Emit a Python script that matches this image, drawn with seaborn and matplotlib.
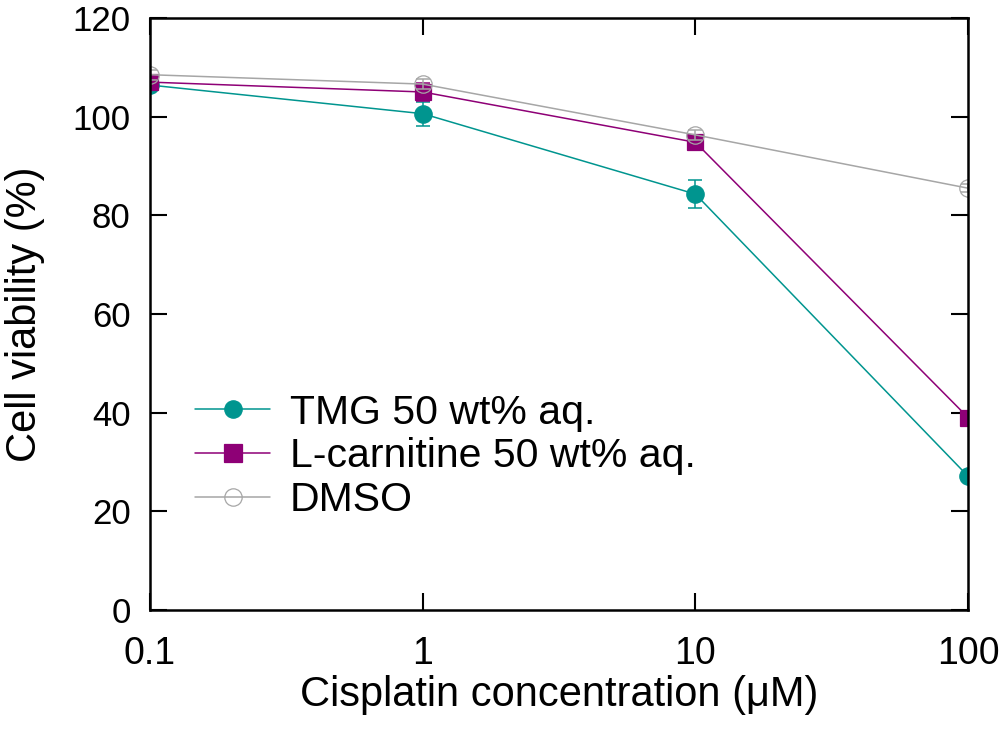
import numpy as np
import pandas as pd
import matplotlib
matplotlib.use("Agg")
import matplotlib.pyplot as plt
import seaborn as sns

# cisplatin concentration (uM)
conc = [0.1, 1, 10, 100]

tmg = [106.4, 100.6, 84.3, 27.1]
tmg_err = [1.2, 2.4, 2.9, 0.6]

lcar = [107.0, 105.0, 94.8, 39.0]
lcar_err = [1.5, 1.9, 1.0, 0.6]

dmso = [108.5, 106.6, 96.3, 85.5]
dmso_err = [1.0, 1.0, 1.0, 0.8]

labels = ["TMG 50 wt% aq.", "L-carnitine 50 wt% aq.", "DMSO"]
colors = ["#00958f", "#8e0076", "#a6a6a6"]
xtick_labels = ["0.1", "1", "10", "100"]

sns.set_theme(style="ticks")
plt.rcParams["font.family"] = ["Liberation Sans", "DejaVu Sans"]
plt.rcParams["text.color"] = "black"
plt.rcParams["axes.labelcolor"] = "black"

fig = plt.figure(figsize=(10.03, 7.46), dpi=100)
ax = fig.add_axes([0.1496, 0.1823, 0.8156, 0.7936])

series = [
    (tmg, tmg_err, "o", 12.5, colors[0], colors[0]),
    (lcar, lcar_err, "s", 12, colors[1], colors[1]),
    (dmso, dmso_err, "o", 12.5, "none", colors[2]),
]

for (vals, err, mk, ms, fc, ec), lab in zip(series, labels):
    df = pd.DataFrame({"conc": conc, "viability": vals})
    sns.lineplot(
        data=df, x="conc", y="viability", ax=ax, color=ec, linewidth=1.1,
        marker=mk, markersize=ms, markerfacecolor=fc, markeredgecolor=ec,
        markeredgewidth=0.9, label=lab,
    )
    ax.errorbar(conc, vals, yerr=err, fmt="none", ecolor=ec, elinewidth=1.1,
                capsize=5, capthick=1.1)

ax.set_xscale("log")
ax.set_xlim(0.1, 100)
ax.set_ylim(0, 120)
ax.set_xticks(conc)
ax.set_xticklabels(xtick_labels)
ax.xaxis.set_minor_locator(matplotlib.ticker.NullLocator())
ax.set_yticks(np.arange(0, 121, 20))

for sp in ax.spines.values():
    sp.set_visible(True)
    sp.set_linewidth(1.8)
    sp.set_color("black")

ax.tick_params(direction="in", length=12, width=1.5, top=True, right=True,
               colors="black")
ax.tick_params(axis="x", pad=19, labelsize=27)
ax.tick_params(axis="y", pad=14, labelsize=25)

ax.set_xlabel("Cisplatin concentration (\u03bcM)", fontsize=30, labelpad=2)
ax.set_ylabel("Cell viability (%)", fontsize=30, labelpad=20)

leg = ax.legend(loc="upper left", bbox_to_anchor=(0.035, 0.393), frameon=False,
                fontsize=29.5, handlelength=1.83, handletextpad=0.48,
                labelspacing=0.14, borderaxespad=0)
for h in leg.legend_handles:
    h.set_markersize(12.5)

fig.savefig("out.png", dpi=100)
